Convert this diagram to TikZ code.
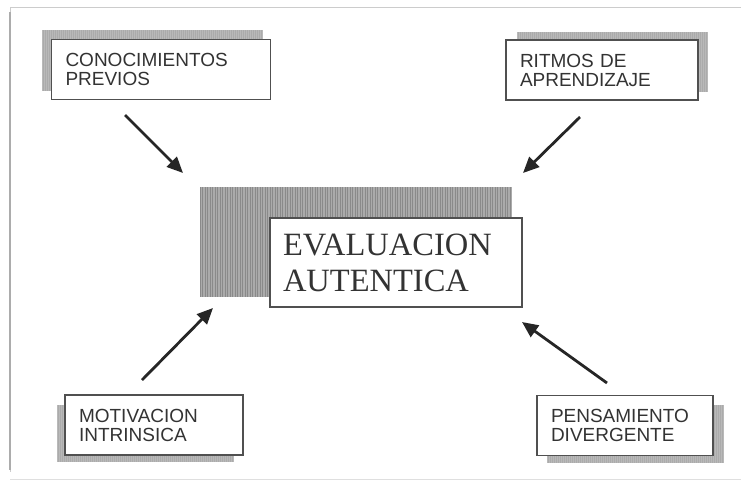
\documentclass[tikz,border=0pt]{standalone}
\usepackage{fontspec}
\setmainfont{Liberation Serif}
\newfontfamily\boxfont{Liberation Sans}
\usetikzlibrary{arrows.meta}
\definecolor{shadowgray}{HTML}{ABABAB}
\definecolor{hatchgray}{HTML}{8A8A8A}
\definecolor{edgegray}{HTML}{505050}
\definecolor{textgray}{HTML}{333333}
\tikzset{
  smallbox/.style={draw=edgegray, line width=1.2pt, fill=white, minimum width=#1, minimum height=60pt,
    inner xsep=14pt, inner ysep=0pt, align=left, text width=#1-28pt, font=\boxfont\fontsize{19}{19}\selectfont, text=textgray},
  bigbox/.style={draw=edgegray, line width=1.2pt, fill=white, minimum width=252pt, minimum height=89pt,
    inner xsep=13pt, inner ysep=0pt, align=left, text width=226pt, font=\fontsize{32.5}{36}\selectfont, text=textgray},
  shade/.style={fill=shadowgray},
  arr/.style={line width=2.8pt, draw=black!85, -{Triangle[length=16pt,width=14pt]}},
  frameline/.style={draw=gray!40, line width=1pt},
}
\begin{document}
\begin{tikzpicture}[x=1pt,y=-1pt]
\useasboundingbox (0,0) rectangle (741,483);
% outer frame
\draw[frameline] (741,7) -- (10,7) -- (10,472);
\draw[draw=gray!25, line width=1pt] (10,479) -- (741,479);
\draw[draw=gray!65, line width=1.2pt] (10,12) -- (10,470);

% shadows of small boxes
\fill[shade] (42,30) rectangle (262,91);
\fill[shade] (517,32) rectangle (708,92);
\fill[shade] (57,405) rectangle (233,462);
\fill[shade] (547,405) rectangle (723,463);
\foreach \x in {42,44,...,262} \draw[hatchgray!60, line width=0.5pt] (\x,30) -- (\x,91);
\foreach \x in {517,519,...,708} \draw[hatchgray!60, line width=0.5pt] (\x,32) -- (\x,92);
\foreach \x in {57,59,...,233} \draw[hatchgray!60, line width=0.5pt] (\x,405) -- (\x,462);
\foreach \x in {547,549,...,723} \draw[hatchgray!60, line width=0.5pt] (\x,405) -- (\x,463);

% central shadow (vertical hatching)
\fill[shadowgray] (200,187) rectangle (512,297);
\foreach \x in {200,202.5,...,512} \draw[hatchgray, line width=0.8pt] (\x,187) -- (\x,297);

% boxes
\node[smallbox=219pt] (prev) at (161,69.5) {CONOCIMIENTOS\\PREVIOS};
\node[smallbox=192pt] (ritm) at (602,70) {RITMOS DE\\APRENDIZAJE};
\node[smallbox=178pt] (moti) at (154,425) {MOTIVACION\\INTRINSICA};
\node[smallbox=176pt] (pens) at (625,425.5) {PENSAMIENTO\\DIVERGENTE};
\node[bigbox] (eval) at (396,262.5) {EVALUACION\\AUTENTICA};

% arrows
\coordinate (a1s) at (125,115); \coordinate (a1e) at (183,173);
\coordinate (a2s) at (580,117); \coordinate (a2e) at (523,173);
\coordinate (a3s) at (142,380); \coordinate (a3e) at (213,308);
\coordinate (a4s) at (607,383); \coordinate (a4e) at (522,322);
\draw[arr] (a1s) -- (a1e);
\draw[arr] (a2s) -- (a2e);
\draw[arr] (a3s) -- (a3e);
\draw[arr] (a4s) -- (a4e);
\end{tikzpicture}
\end{document}
